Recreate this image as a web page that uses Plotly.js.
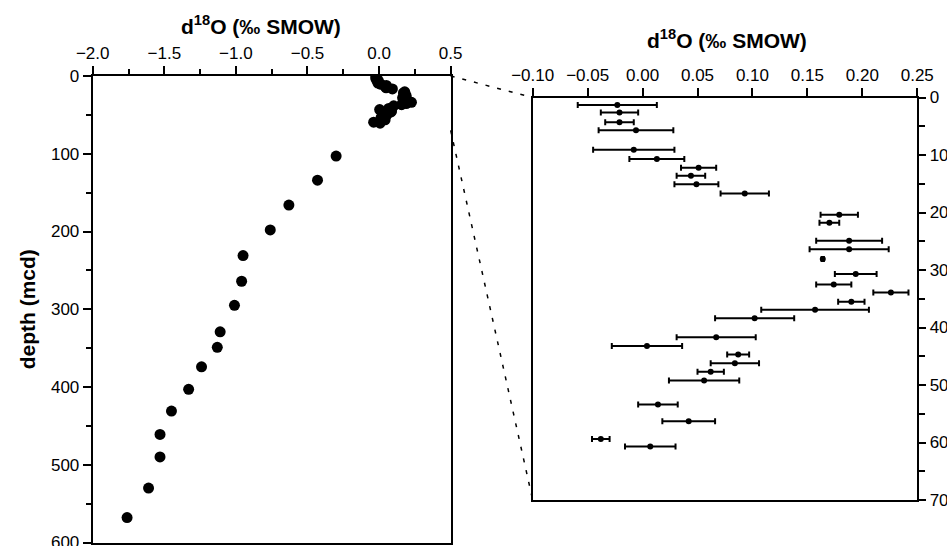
<!DOCTYPE html>
<html>
<head>
<meta charset="utf-8">
<script src="https://cdn.plot.ly/plotly-3.0.1.min.js"></script>
<style>html,body{margin:0;padding:0;background:#fff;}#chart{width:947px;height:546px;}</style>
</head>
<body>
<div id="chart"></div>
<script>
// Shallow samples (0-70 mcd), shown in both panels
const shallowDepth = [1.3, 2.6, 4.3, 5.7, 9.1, 10.7, 12.2, 13.6, 15.1, 16.7, 20.4, 21.8, 24.9, 26.4, 28.1, 30.7,
                      32.5, 33.9, 35.5, 36.9, 38.4, 41.7, 43.2, 44.7, 46.2, 47.7, 49.2, 53.4, 56.3, 59.4, 60.7];
const shallowD18O  = [-0.023, -0.021, -0.021, -0.006, -0.008, 0.013, 0.051, 0.044, 0.049, 0.093, 0.179, 0.170, 0.188, 0.188, 0.164, 0.194,
                      0.174, 0.226, 0.190, 0.157, 0.102, 0.067, 0.004, 0.087, 0.084, 0.062, 0.056, 0.014, 0.042, -0.038, 0.007];
const shallowErr   = [0.036, 0.017, 0.013, 0.034, 0.037, 0.025, 0.016, 0.013, 0.020, 0.022, 0.017, 0.009, 0.030, 0.036, 0.001, 0.019,
                      0.016, 0.016, 0.012, 0.049, 0.036, 0.036, 0.032, 0.010, 0.022, 0.012, 0.032, 0.018, 0.024, 0.008, 0.023];
// Deeper samples (left panel only)
const deepDepth = [103, 134, 166, 198, 231, 264, 295, 329, 349, 374, 403, 431, 461, 490, 530, 568];
const deepD18O  = [-0.30, -0.43, -0.63, -0.76, -0.95, -0.96, -1.01, -1.11, -1.13, -1.24, -1.33, -1.45, -1.53, -1.53, -1.61, -1.76];

const axisTitle = 'd<sup>18</sup>O (‰ SMOW)';
const depthTitle = 'depth (mcd)';

const FONT = 'Arial, "Liberation Sans", sans-serif';
const leftX = [0.0979, 0.4759], leftY = [0.0064, 0.8608];
const rightX = [0.5625, 0.9686], rightY = [0.0842, 0.8214];
const leftXRange = [-2.0, 0.5], leftYRange = [600, 0];
const rightXRange = [-0.10, 0.25], rightYRange = [70, 0];

function paperPt(xd, yd, xr, yr, xv, yv) {
  const px = xd[0] + (xv - xr[0]) / (xr[1] - xr[0]) * (xd[1] - xd[0]);
  const py = yd[0] + (yv - yr[0]) / (yr[1] - yr[0]) * (yd[1] - yd[0]);
  return [px, py];
}
const a0 = paperPt(leftX, leftY, leftXRange, leftYRange, leftXRange[1], rightYRange[1]);
const b0 = paperPt(rightX, rightY, rightXRange, rightYRange, rightXRange[0], rightYRange[1]);
const a1 = paperPt(leftX, leftY, leftXRange, leftYRange, leftXRange[1], rightYRange[0]);
const b1 = paperPt(rightX, rightY, rightXRange, rightYRange, rightXRange[0], rightYRange[0]);

const traces = [
  {
    x: shallowD18O.concat(deepD18O), y: shallowDepth.concat(deepDepth),
    type: 'scatter', mode: 'markers', xaxis: 'x', yaxis: 'y',
    marker: {color: 'black', size: 11}, showlegend: false
  },
  {
    x: shallowD18O, y: shallowDepth,
    type: 'scatter', mode: 'markers', xaxis: 'x2', yaxis: 'y2',
    marker: {color: 'black', size: 6},
    error_x: {type: 'data', array: shallowErr, visible: true, color: 'black', thickness: 2, width: 3},
    showlegend: false
  }
];

const tickFont = {family: FONT, size: 17, color: 'black'};
const titleFont = {family: FONT, size: 21, color: 'black', weight: 'bold'};
const common = {showline: true, linewidth: 2, linecolor: 'black', mirror: true, showgrid: false, zeroline: false,
                ticks: 'outside', tickwidth: 2, tickcolor: 'black', tickfont: tickFont, ticklabeloverflow: 'allow'};

const layout = {
  width: 947, height: 546,
  margin: {l: 0, r: 0, t: 0, b: 0},
  paper_bgcolor: 'white', plot_bgcolor: 'white',
  showlegend: false,
  xaxis: Object.assign({}, common, {
    domain: leftX, anchor: 'y', side: 'top', range: leftXRange, dtick: 0.5, tickformat: '.1f', ticklen: 8,
    minor: {dtick: 0.25, ticks: 'outside', ticklen: 5, tickwidth: 2, tickcolor: 'black'}
  }),
  yaxis: Object.assign({}, common, {
    domain: leftY, anchor: 'x', range: leftYRange, dtick: 100, ticklen: 8,
    minor: {dtick: 50, ticks: 'outside', ticklen: 5, tickwidth: 2, tickcolor: 'black'},
    title: {text: depthTitle, font: titleFont, standoff: 10}
  }),
  xaxis2: Object.assign({}, common, {
    domain: rightX, anchor: 'y2', side: 'top', range: rightXRange, dtick: 0.05, tickformat: '.2f', ticklen: 8
  }),
  yaxis2: Object.assign({}, common, {
    domain: rightY, anchor: 'x2', side: 'right', range: rightYRange, dtick: 10, ticklen: 7,
    minor: {dtick: 5, ticks: 'outside', ticklen: 6, tickwidth: 2, tickcolor: 'black'}
  }),
  annotations: [
    {text: axisTitle, xref: 'paper', yref: 'paper', x: 0.2756, y: 0.954, xanchor: 'center', yanchor: 'middle',
     showarrow: false, font: titleFont},
    {text: axisTitle, xref: 'paper', yref: 'paper', x: 0.7677, y: 0.9286, xanchor: 'center', yanchor: 'middle',
     showarrow: false, font: titleFont}
  ],
  shapes: [
    {type: 'line', xref: 'paper', yref: 'paper', x0: a0[0], y0: a0[1], x1: b0[0], y1: b0[1],
     line: {color: 'black', width: 1.5, dash: '4px,8px'}},
    {type: 'line', xref: 'paper', yref: 'paper', x0: a1[0], y0: a1[1], x1: b1[0], y1: b1[1],
     line: {color: 'black', width: 1.5, dash: '4px,8px'}}
  ]
};

Plotly.newPlot('chart', traces, layout, {staticPlot: true, displayModeBar: false});
</script>
</body>
</html>
